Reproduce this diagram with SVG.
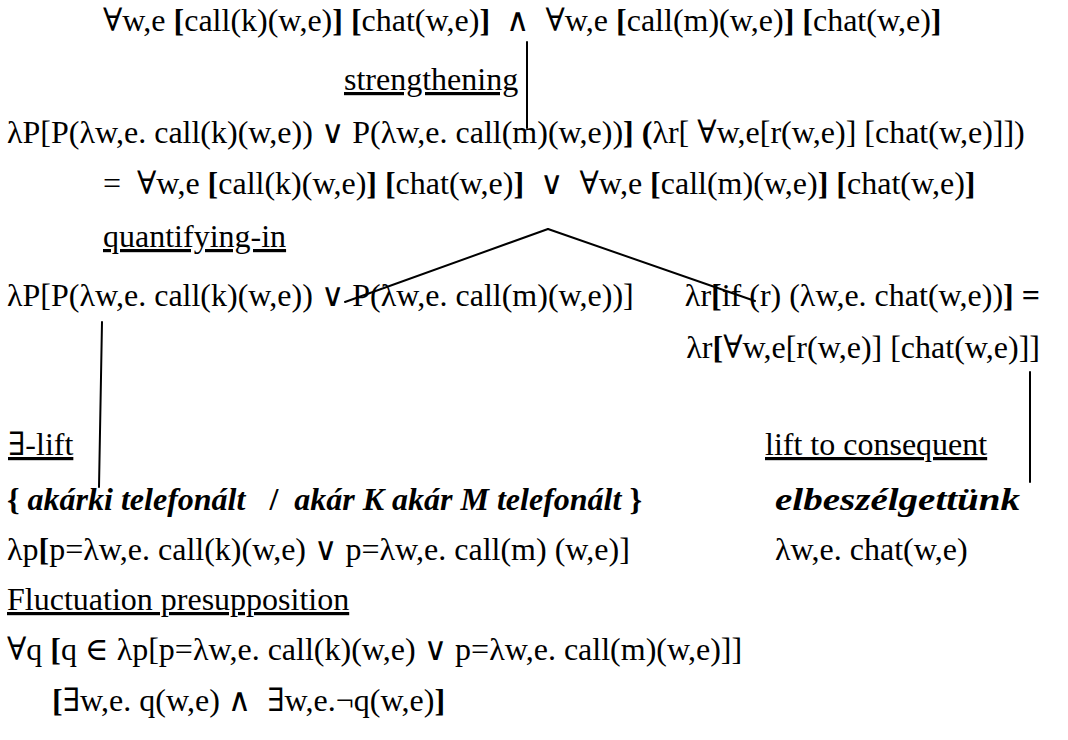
<svg xmlns="http://www.w3.org/2000/svg" width="1068" height="740" viewBox="0 0 1068 740">
<style>
text{font-family:"Liberation Serif","Times New Roman","DejaVu Serif",serif;font-size:32px;fill:#000;white-space:pre}
.b{font-weight:bold}
.bi{font-weight:bold;font-style:italic}
.u{text-decoration:underline}
.e{text-anchor:end}
.c{stroke:#000;stroke-width:2;fill:none;stroke-linecap:round}
</style>
<rect width="1068" height="740" fill="#fff"/>
<g id="connectors">
<line class="c" x1="527" y1="42" x2="527" y2="128"/>
<line class="c" x1="548" y1="229" x2="345" y2="302"/>
<line class="c" x1="548" y1="229" x2="755" y2="301"/>
<line class="c" x1="102" y1="322" x2="99" y2="487"/>
<line class="c" x1="1030" y1="372" x2="1030" y2="482"/>
</g>
<g id="n-conj"><text x="103" y="31">∀w,e <tspan class="b">[</tspan>call(k)(w,e)<tspan class="b">]</tspan> <tspan class="b">[</tspan>chat(w,e)<tspan class="b">]</tspan>  ∧  ∀w,e <tspan class="b">[</tspan>call(m)(w,e)<tspan class="b">]</tspan> <tspan class="b">[</tspan>chat(w,e)<tspan class="b">]</tspan></text></g>
<g id="l-strengthening"><text class="u" x="344" y="90">strengthening</text></g>
<g id="n-disj"><text x="7" y="143">λP[P(λw,e. call(k)(w,e)) ∨ P(λw,e. call(m)(w,e))<tspan class="b">]</tspan> <tspan class="b">(</tspan>λr[ ∀w,e[r(w,e)] [chat(w,e)]])</text>
<text x="103" y="194">=  ∀w,e <tspan class="b">[</tspan>call(k)(w,e)<tspan class="b">]</tspan> <tspan class="b">[</tspan>chat(w,e)<tspan class="b">]</tspan>  ∨  ∀w,e <tspan class="b">[</tspan>call(m)(w,e)<tspan class="b">]</tspan> <tspan class="b">[</tspan>chat(w,e)<tspan class="b">]</tspan></text></g>
<g id="l-quantifying"><text class="u" x="103" y="247">quantifying-in</text></g>
<g id="n-gq"><text x="7" y="306">λP[P(λw,e. call(k)(w,e)) ∨ P(λw,e. call(m)(w,e))]</text></g>
<g id="n-cond"><text class="e" x="1040" y="306">λr<tspan class="b">[</tspan>if (r) (λw,e. chat(w,e))<tspan class="b">] =</tspan></text>
<text class="e" x="1040" y="358">λr<tspan class="b">[</tspan>∀w,e[r(w,e)] [chat(w,e)]]</text></g>
<g id="l-elift"><text class="u" x="8" y="455">∃-lift</text></g>
<g id="l-lift"><text class="u" x="765" y="455">lift to consequent</text></g>
<g id="n-akar"><text class="b" x="7" y="510">{ <tspan class="bi">akárki telefonált</tspan>   /  <tspan class="bi">akár K akár M telefonált</tspan> }</text>
<text x="7" y="560">λp<tspan class="b">[</tspan>p=λw,e. call(k)(w,e) ∨ p=λw,e. call(m) (w,e)]</text></g>
<g id="n-verb"><text class="bi" x="775" y="510" textLength="245" lengthAdjust="spacingAndGlyphs">elbeszélgettünk</text>
<text x="775" y="560">λw,e. chat(w,e)</text></g>
<g id="n-fluct"><text class="u" x="7" y="610">Fluctuation presupposition</text>
<text x="7" y="660">∀q <tspan class="b">[</tspan>q ∈ λp[p=λw,e. call(k)(w,e) ∨ p=λw,e. call(m)(w,e)]]</text>
<text x="52" y="711"><tspan class="b">[</tspan>∃w,e. q(w,e) ∧  ∃w,e.¬q(w,e)<tspan class="b">]</tspan></text></g>
</svg>
